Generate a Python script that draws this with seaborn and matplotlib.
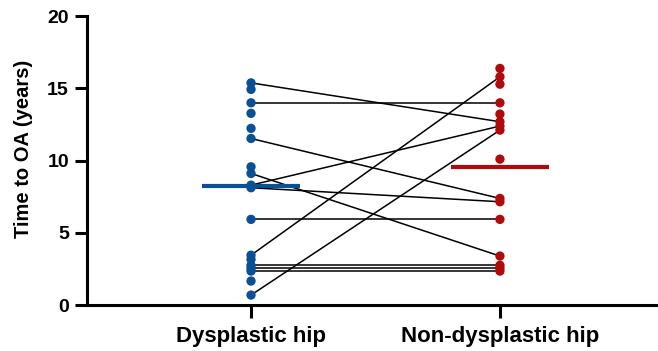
import matplotlib
matplotlib.use("Agg")
import matplotlib.pyplot as plt
import seaborn as sns
import pandas as pd
import numpy as np

categories = ["Dysplastic hip", "Non-dysplastic hip"]

# paired observations (dysplastic -> non-dysplastic)
paired_dysplastic = [15.38, 14.0, 11.53, 9.11, 8.12, 8.3, 5.93, 3.45, 0.69, 2.75, 2.55, 2.35]
paired_nondysplastic = [12.69, 14.0, 7.38, 3.39, 7.15, 12.39, 5.93, 15.8, 12.11, 2.75, 2.55, 2.35]

# unpaired observations
single_dysplastic = [14.93, 13.27, 12.23, 9.57, 3.16, 1.66]
single_nondysplastic = [16.38, 15.29, 13.22, 10.10]

group_means = [8.26, 9.55]

colors = ["#0B4F97", "#B00A0A"]

sns.set_theme(style="ticks")
plt.rcParams['font.family'] = ['Liberation Sans', 'DejaVu Sans']
plt.rcParams['font.weight'] = 'bold'
plt.rcParams['text.color'] = 'black'
plt.rcParams['axes.labelcolor'] = 'black'
plt.rcParams['xtick.color'] = 'black'
plt.rcParams['ytick.color'] = 'black'

fig = plt.figure(figsize=(6.58, 3.51), dpi=100)
ax = fig.add_axes([0.1322, 0.131, 0.8678, 0.823])

# build long frames
pair_rows = []
for i, (a, b) in enumerate(zip(paired_dysplastic, paired_nondysplastic)):
    pair_rows.append({"pair": i, "pos": 0, "value": a, "group": categories[0]})
    pair_rows.append({"pair": i, "pos": 1, "value": b, "group": categories[1]})
pairs = pd.DataFrame(pair_rows)

pts = pd.concat([
    pairs[["pos", "value", "group"]],
    pd.DataFrame({"pos": 0, "value": single_dysplastic, "group": categories[0]}),
    pd.DataFrame({"pos": 1, "value": single_nondysplastic, "group": categories[1]}),
], ignore_index=True)

sns.lineplot(data=pairs, x="pos", y="value", units="pair", estimator=None,
             color="black", lw=1.1, ax=ax, legend=False, zorder=2)

sns.scatterplot(data=pts, x="pos", y="value", hue="group", palette=colors,
                s=45, edgecolor="none", ax=ax, legend=False, zorder=3)

means = pd.DataFrame({"pos": [0, 1], "mean": group_means, "group": categories})
for _, r in means.iterrows():
    c = colors[categories.index(r["group"])]
    ax.hlines(r["mean"], r["pos"] - 0.197, r["pos"] + 0.197, color=c, lw=3.0, zorder=4)

ax.set_xlim(-0.659, 1.635)
ax.set_ylim(0, 20)
ax.set_yticks([0, 5, 10, 15, 20])
ax.set_xticks([0, 1])
ax.set_xticklabels(categories, fontsize=16, fontweight="bold", color="black")
ax.set_yticklabels(["0", "5", "10", "15", "20"], fontsize=14, fontweight="bold", color="black")
ax.set_xlabel("")
ax.set_ylabel("Time to OA (years)", fontsize=14.5, fontweight="bold", color="black")
ax.yaxis.set_label_coords(-0.094, 0.54)

for s in ["top", "right"]:
    ax.spines[s].set_visible(False)
for s in ["left", "bottom"]:
    ax.spines[s].set_linewidth(2.2)
    ax.spines[s].set_color("black")
ax.tick_params(axis="both", width=2.2, length=9, color="black", pad=4)
ax.tick_params(axis="x", pad=6)

fig.savefig("out.png", dpi=100)
